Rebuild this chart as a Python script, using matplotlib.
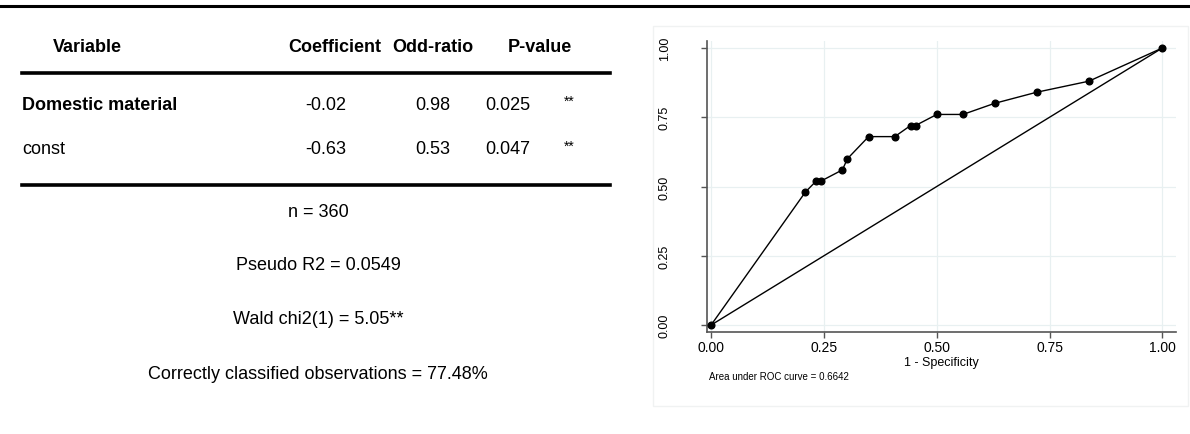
import matplotlib.pyplot as plt
from matplotlib.lines import Line2D
from matplotlib.patches import Rectangle
from matplotlib import font_manager

W, H = 1190, 435

# table data
columns = ["Variable", "Coefficient", "Odd-ratio", "P-value"]
variables = ["Domestic material", "const"]
coefs = ["-0.02", "-0.63"]
odds = ["0.98", "0.53"]
pvalues = ["0.025", "0.047"]
stars = ["**", "**"]
stats = ["n = 360", "Pseudo R2 = 0.0549", "Wald chi2(1) = 5.05**",
         "Correctly classified observations = 77.48%"]

# ROC curve points
fpr = [0.0, 0.209, 0.233, 0.244, 0.291, 0.302, 0.349, 0.407, 0.442, 0.453,
       0.500, 0.558, 0.628, 0.721, 0.837, 1.0]
tpr = [0.0, 0.48, 0.52, 0.52, 0.56, 0.60, 0.68, 0.68, 0.72, 0.72,
       0.76, 0.76, 0.80, 0.84, 0.88, 1.0]
ref_x = [0.0, 1.0]
ref_y = [0.0, 1.0]
ticks = [0.0, 0.25, 0.5, 0.75, 1.0]
auc_text = "Area under ROC curve = 0.6642"

names = {f.name for f in font_manager.fontManager.ttflist}
narrow = "Liberation Sans Narrow" if "Liberation Sans Narrow" in names else "Liberation Sans"
tfont = [narrow, "DejaVu Sans"]
pfont = ["Liberation Sans", "DejaVu Sans"]

fig = plt.figure(figsize=(W / 100, H / 100), dpi=100)


def fx(px):
    return px / W


def fy(py):
    return 1 - py / H


def hline(x0, x1, y, lw):
    fig.add_artist(Line2D([fx(x0), fx(x1)], [fy(y), fy(y)], color="black",
                          lw=lw, transform=fig.transFigure))


# top rule across the whole figure
hline(0, W, 7, 2.2)

# header
col_x = [87, 335, 433, 540]
for name, x in zip(columns, col_x):
    fig.text(fx(x), fy(47), name, ha="center", va="center", fontsize=13,
             fontweight="bold", family=tfont)
hline(22, 610, 74, 2.6)

row_y = [105, 150]
for i, y in enumerate(row_y):
    fig.text(fx(22), fy(y), variables[i], ha="left", va="center", fontsize=13,
             fontweight="bold" if i == 0 else "normal", family=tfont)
    fig.text(fx(326), fy(y), coefs[i], ha="center", va="center", fontsize=13, family=tfont)
    fig.text(fx(433), fy(y), odds[i], ha="center", va="center", fontsize=13, family=tfont)
    fig.text(fx(508), fy(y), pvalues[i], ha="center", va="center", fontsize=13, family=tfont)
    fig.text(fx(569), fy(y - 3), stars[i], ha="center", va="center", fontsize=10, family=tfont)
hline(22, 610, 186, 2.6)

stat_y = [213, 266, 320, 375]
for s, y in zip(stats, stat_y):
    fig.text(fx(318), fy(y), s, ha="center", va="center", fontsize=13, family=tfont)

# faint graph region box
fig.add_artist(Rectangle((fx(653), fy(407)), fx(1188 - 653), (407 - 27) / H,
                         transform=fig.transFigure, fill=False,
                         edgecolor="#f0f2f2", lw=1))

# ROC plot
ax = fig.add_axes([fx(707), fy(333), fx(1176 - 707), (333 - 42) / H])
ax.set_xlim(-0.009, 1.03)
ax.set_ylim(-0.025, 1.025)
ax.set_xticks(ticks)
ax.set_yticks(ticks)
ax.set_xticklabels([f"{t:.2f}" for t in ticks], fontsize=10, family=pfont)
ax.set_yticklabels([f"{t:.2f}" for t in ticks], fontsize=9, family=pfont,
                   rotation=90, va="center")
ax.grid(True, color="#e8f0f1", lw=0.9)
ax.set_axisbelow(True)
for side in ["top", "right"]:
    ax.spines[side].set_visible(False)
for side in ["left", "bottom"]:
    ax.spines[side].set_color("#555555")
    ax.spines[side].set_linewidth(1.2)
ax.tick_params(axis="x", direction="out", length=4, width=1, color="#555555", pad=2)
ax.tick_params(axis="y", direction="out", length=4, width=1, color="#555555", pad=22)

ax.plot(fpr, tpr, color="black", lw=1, marker="o", markersize=4.8, zorder=3)
ax.plot(ref_x, ref_y, color="black", lw=1, zorder=2)

ax.set_xlabel("1 - Specificity", fontsize=9, family=pfont, labelpad=1)
fig.text(fx(709), fy(377), auc_text, ha="left", va="center", fontsize=7, family=pfont)

fig.savefig("out.png", dpi=100)
